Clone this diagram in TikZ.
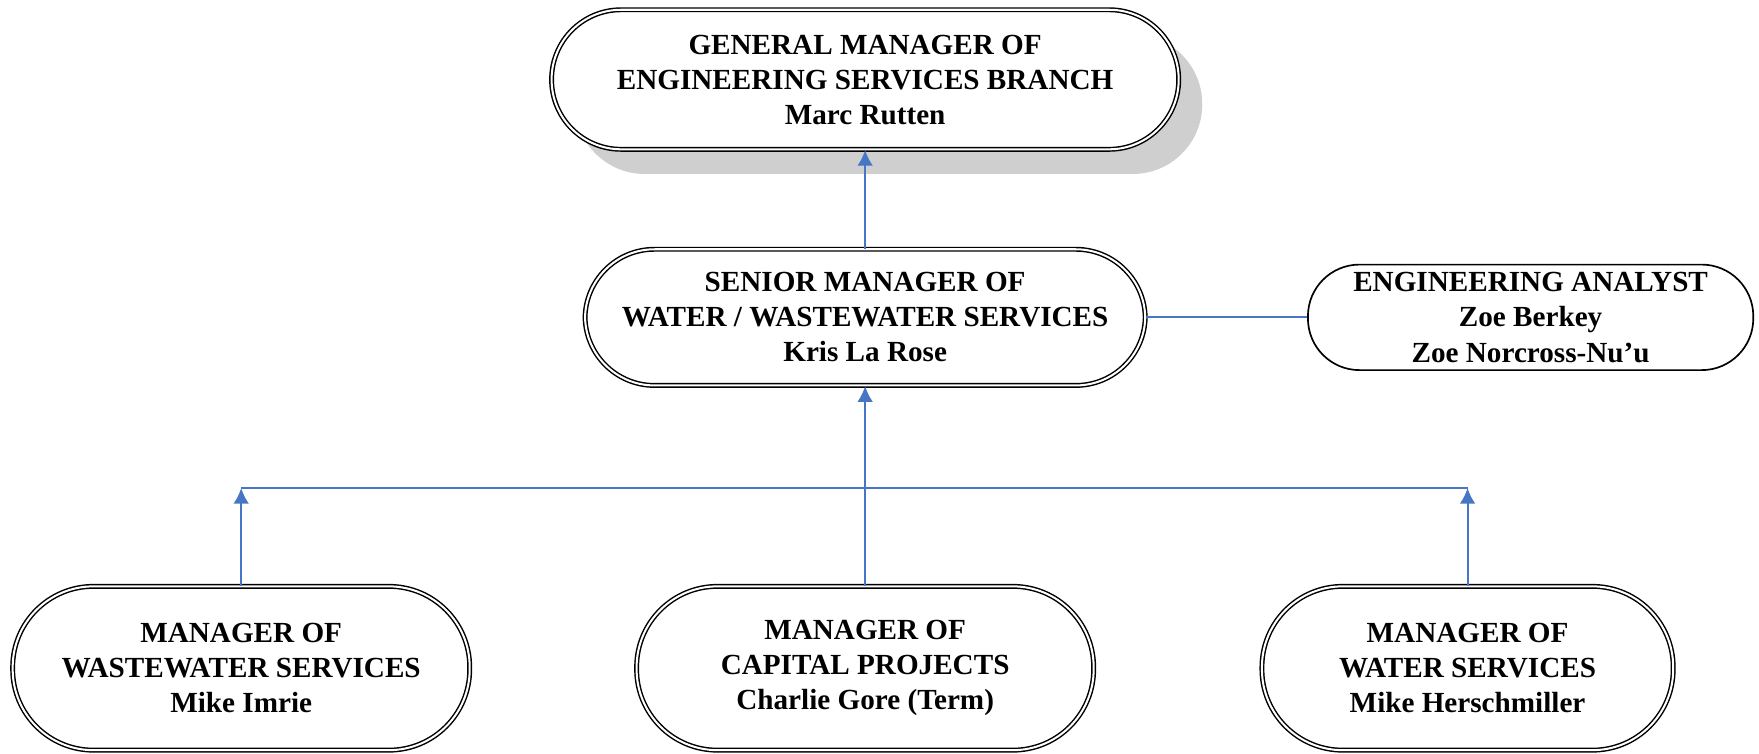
\documentclass[tikz,border=0pt]{standalone}
\usepackage{fontspec}
\setmainfont{Liberation Serif}
\usepackage{tikz}
\usetikzlibrary{positioning, arrows.meta, shadows}
\definecolor{linkblue}{RGB}{70,118,196}
\tikzstyle{mgr}=[draw, double, line width=0.65pt, double distance=0.9pt, fill=white, rounded corners=31pt, align=center, font=\bfseries\fontsize{13}{15.6}\selectfont]
\tikzstyle{mgrlow}=[mgr, minimum height=73pt, rounded corners=36pt]
\tikzstyle{staff}=[draw, line width=0.75pt, fill=white, rounded corners=23pt, align=center, font=\bfseries\fontsize{13}{15.8}\selectfont]
\tikzstyle{link}=[color=linkblue, line width=0.9pt]

\begin{document}
\begin{tikzpicture}[node distance=2.5cm,auto,>={Latex[length=7pt,width=7pt]}]
    \useasboundingbox (0,0) rectangle (784pt,-336pt);
    \node [mgr, minimum width=279.5pt, minimum height=62.2pt, drop shadow={shadow xshift=10.5pt, shadow yshift=-11pt, fill=black!19, opacity=1}] (gm) at (385.6pt,-35.45pt) {GENERAL MANAGER OF\\ENGINEERING SERVICES BRANCH\\Marc Rutten};
    \node [mgr, minimum width=249.7pt, minimum height=60.7pt] (sm) [below of=gm, node distance=106pt] {SENIOR MANAGER OF\\WATER / WASTEWATER SERVICES\\Kris La Rose};
    \node [staff, minimum width=198.5pt, minimum height=46.5pt] (ea) [right of=sm, node distance=296.6pt] {ENGINEERING ANALYST\\Zoe Berkey\\Zoe Norcross-Nu'u};
    \node [mgrlow, minimum width=203.7pt] (cp) [below of=sm, node distance=156.4pt] {MANAGER OF\\CAPITAL PROJECTS\\Charlie Gore (Term)};
    \node [mgrlow, minimum width=203.7pt] (ww) [left of=cp, node distance=278.1pt] {MANAGER OF\\WASTEWATER SERVICES\\Mike Imrie};
    \node [mgrlow, minimum width=183.3pt] (ws) [right of=cp, node distance=268.5pt] {MANAGER OF\\WATER SERVICES\\Mike Herschmiller};
    \coordinate (busl) at (ww.north |- 0,-217.5pt);
    \coordinate (busr) at (ws.north |- 0,-217.5pt);
    \path[link, ->] (sm) edge (gm);
    \path[link] (sm) edge (ea);
    \draw[link] (busl) -- (busr);
    \path[link, ->] (ww) edge (busl);
    \path[link, ->] (ws) edge (busr);
    \path[link, ->] (cp) edge (sm);

\end{tikzpicture}
\end{document}
